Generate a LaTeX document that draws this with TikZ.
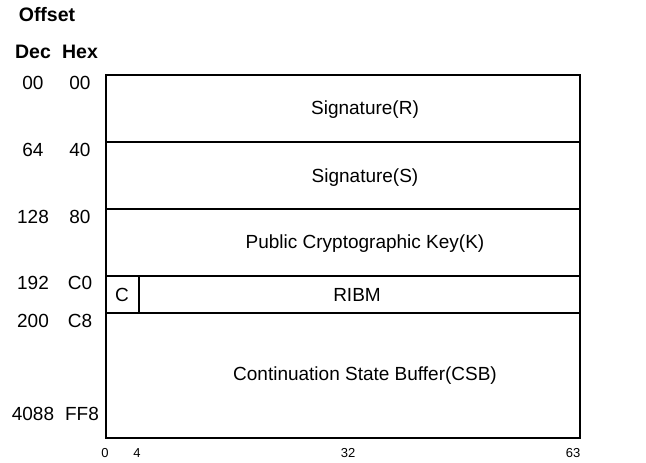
\documentclass[tikz,border=0pt]{standalone}
\usepackage{fontspec}
\setmainfont{Liberation Sans}
\begin{document}
\begin{tikzpicture}[x=1pt,y=-1pt,line width=1.6pt,font=\fontsize{19}{22}\selectfont,
  head/.style={font=\fontsize{19.5}{22}\selectfont\bfseries},
  tick/.style={font=\fontsize{13}{15}\selectfont}]
		\useasboundingbox (0,0) rectangle (646,463);
		% frame corners and row lines
		\coordinate (TL) at (106,75);
		\coordinate (BR) at (580,438);
		\coordinate (L1) at (106,142);  \coordinate (R1) at (580,142);
		\coordinate (L2) at (106,209);  \coordinate (R2) at (580,209);
		\coordinate (L3) at (106,276);  \coordinate (R3) at (580,276);
		\coordinate (L4) at (106,313);  \coordinate (R4) at (580,313);
		\coordinate (CT) at (139,276);  \coordinate (CB) at (139,313);
		\draw (TL) rectangle (BR);
		\draw (L1)--(R1) (L2)--(R2) (L3)--(R3) (L4)--(R4) (CT)--(CB);
		% header
		\node[head] (offset) at (47,15) {Offset};
		\node[head] (dec) at (33,52) {Dec};
		\node[head] (hex) at (80,52) {Hex};
		% offsets
		\node (d0) at (33,83)  {00};   \node (h0) at (80,83)  {00};
		\node (d1) at (33,150) {64};   \node (h1) at (80,150) {40};
		\node (d2) at (33,217) {128};  \node (h2) at (80,217) {80};
		\node (d3) at (33,283) {192};  \node (h3) at (80,283) {C0};
		\node (d4) at (33,321) {200};  \node (h4) at (80,321) {C8};
		\node (d5) at (33,414) {4088}; \node (h5) at (82,414) {FF8};
		% fields
		\node (sigr) at (365,110) {Signature(R)};
		\node (sigs) at (365,178) {Signature(S)};
		\node (key)  at (365,244) {Public Cryptographic Key(K)};
		\node (cbit) at (122,295) {C};
		\node (ribm) at (357,295) {RIBM};
		\node (csb)  at (365,376) {Continuation State Buffer(CSB)};
		% bit positions
		\node[tick] (b0)  at (105,453) {0};
		\node[tick] (b4)  at (137,453) {4};
		\node[tick] (b32) at (348,453) {32};
		\node[tick] (b63) at (573,453) {63};
\end{tikzpicture}
\end{document}
